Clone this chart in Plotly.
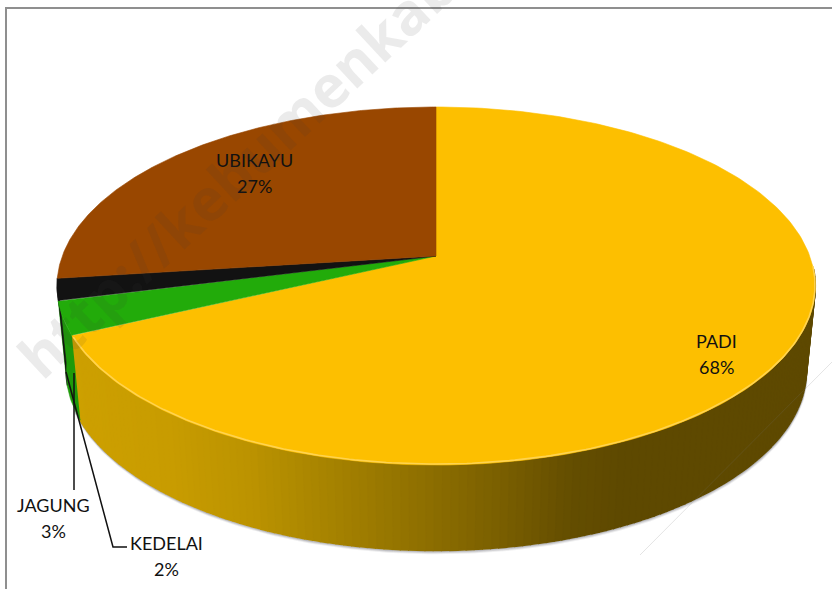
import numpy as np
import plotly.graph_objects as go

labels = ["PADI", "JAGUNG", "KEDELAI", "UBIKAYU"]
values = [68, 3, 2, 27]
colors = ["#FDBF00", "#22AB0A", "#121212", "#994700"]
label_pos = [(716, 341), (53, 505), (166, 543), (254, 160)]
watermark = "http://kebumenkab"

W, H = 832, 589
K = 0.1676
CX = 436
TOP = dict(rx=373.7, s=174.0, cy=256.0)
BOT = dict(rx=365.0, s=175.0, cy=340.0)


def proj(frac, e):
    a = 2 * np.pi * np.asarray(frac, dtype=float)
    X, Y = np.sin(a), np.cos(a)
    d = 1 + K * Y
    return CX + e["rx"] * X / d, e["cy"] - e["s"] * Y / d


stop_x = [70, 170, 250, 300, 420, 500, 570, 620, 820]
stop_c = [(205, 160, 0), (200, 156, 0), (188, 147, 0), (174, 137, 0), (143, 112, 0),
          (122, 95, 0), (100, 78, 0), (94, 73, 0), (94, 73, 0)]


def wall_colour(x):
    c = [np.interp(x, stop_x, [s[i] for s in stop_c]) for i in range(3)]
    return "rgb(%d,%d,%d)" % tuple(int(round(v)) for v in c)


fig = go.Figure()


def poly(xs, ys, col, lw=0.6):
    fig.add_trace(go.Scatter(x=list(xs), y=list(ys), mode="lines", fill="toself",
                             fillcolor=col, line=dict(color=col, width=lw),
                             hoverinfo="skip", showlegend=False))


cum = np.concatenate([[0], np.cumsum(values)]) / sum(values)

# soft shadow under the near edge
t = np.linspace(0.262, cum[1] + 0.01, 200)
bx, by = proj(t, BOT)
for off, al in [(3, 0.10), (2, 0.18), (1, 0.30)]:
    fig.add_trace(go.Scatter(x=bx + off * 0.2, y=by + off, mode="lines",
                             line=dict(color=f"rgba(90,90,100,{al})", width=2),
                             hoverinfo="skip", showlegend=False))

# side walls
for i in range(4):
    a, b = cum[i], cum[i + 1]
    if i == 0:
        edges = np.linspace(0.262, b, 141)
        for p, q in zip(edges[:-1], edges[1:]):
            tt = np.array([p, q])
            xt, yt = proj(tt, TOP)
            xb, yb = proj(tt, BOT)
            poly(list(xt) + list(xb[::-1]), list(yt) + list(yb[::-1]),
                 wall_colour((xt.mean() + xb.mean()) / 2), lw=2)
    elif i < 3:
        tt = np.linspace(a, b, 12)
        xt, yt = proj(tt, TOP)
        xb, yb = proj(tt, BOT)
        poly(list(xt) + list(xb[::-1]), list(yt) + list(yb[::-1]),
             "#1E9A0A" if i == 1 else colors[i])

# top faces
for i in range(4):
    tt = np.linspace(cum[i], cum[i + 1], 240)
    xt, yt = proj(tt, TOP)
    poly([CX] + list(xt) + [CX], [TOP["cy"]] + list(yt) + [TOP["cy"]], colors[i])

# bevel highlight on the near rim
tt = np.linspace(0.26, cum[1] - 0.002, 220)
xt, yt = proj(tt, TOP)
fig.add_trace(go.Scatter(x=xt, y=yt - 1, mode="lines",
                         line=dict(color="#FFD34F", width=1.6),
                         hoverinfo="skip", showlegend=False))

# leader lines
fig.add_trace(go.Scatter(x=[74, 74], y=[373, 490], mode="lines",
                         line=dict(color="#111111", width=1.5), hoverinfo="skip", showlegend=False))
fig.add_trace(go.Scatter(x=[66, 113, 127], y=[372, 547, 547], mode="lines",
                         line=dict(color="#111111", width=1.5), hoverinfo="skip", showlegend=False))

# frame and faint diagonal
shapes = [
    dict(type="line", x0=6, x1=6, y0=7, y1=H, line=dict(color="#8F8F8F", width=2)),
    dict(type="line", x0=5, x1=W, y0=8, y1=8, line=dict(color="#8F8F8F", width=2)),
    dict(type="line", x0=640, x1=W, y0=555, y1=362, line=dict(color="rgba(120,120,120,0.2)", width=1)),
]

ann = []
for name, v, (x, y) in zip(labels, values, label_pos):
    for txt, yy in ((name, y), (f"{v}%", y + 26)):
        ann.append(dict(x=x, y=yy, text=txt, showarrow=False, xanchor="center", yanchor="middle",
                        font=dict(family="Lato", size=18, color="#111111")))
ann.append(dict(x=236, y=170, text=watermark, textangle=-43, showarrow=False,
                xanchor="center", yanchor="middle",
                font=dict(family="Open Sans", size=58, color="rgba(60,60,60,0.10)", weight=700)))

fig.update_layout(
    width=W, height=H, margin=dict(l=0, r=0, t=0, b=0),
    paper_bgcolor="white", plot_bgcolor="white", showlegend=False,
    xaxis=dict(range=[0, W], visible=False, fixedrange=True),
    yaxis=dict(range=[H, 0], visible=False, fixedrange=True),
    shapes=shapes, annotations=ann,
)
fig.write_html("out.html", config=dict(displayModeBar=False),
               post_script="document.body.style.margin='0';document.documentElement.style.overflow='hidden';")
